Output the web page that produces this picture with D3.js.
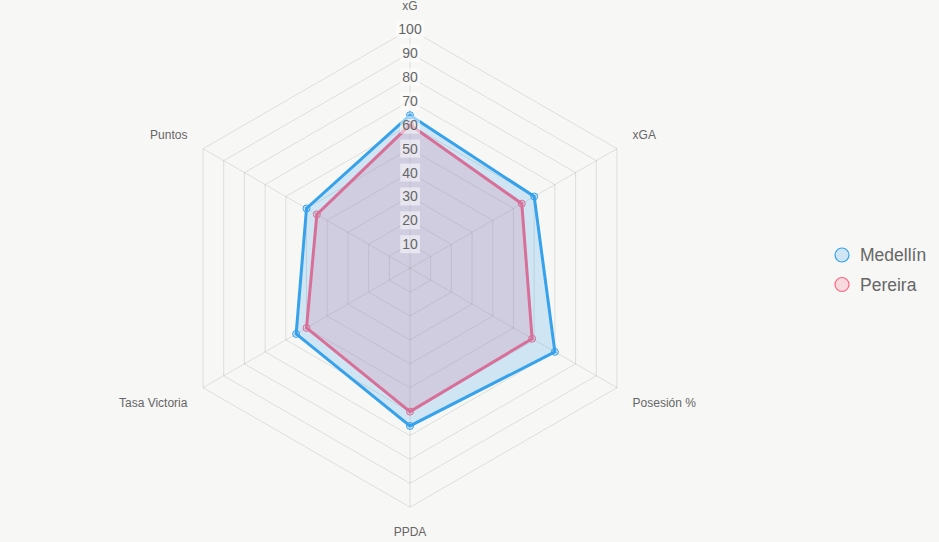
<!DOCTYPE html>
<html>
<head>
<meta charset="utf-8">
<script src="https://cdn.jsdelivr.net/npm/d3@7"></script>
<style>
  html, body { margin: 0; padding: 0; background: #f7f7f5; }
  svg { display: block; font-family: "Liberation Sans", Arial, sans-serif; }
</style>
</head>
<body>
<div id="chart"></div>
<script>
// axes and values
var labels = ["xG", "xGA", "Posesión %", "PPDA", "Tasa Victoria", "Puntos"];
var medellin = [64, 60, 70, 66, 55, 50];
var pereira = [60, 54, 59, 60, 50, 45];
var tickValues = [10, 20, 30, 40, 50, 60, 70, 80, 90, 100];

var series = [
  { name: "Medellín", values: medellin, stroke: "rgb(54,162,235)", fill: "rgba(54,162,235,0.2)" },
  { name: "Pereira", values: pereira, stroke: "rgb(255,99,132)", fill: "rgba(255,99,132,0.2)" }
];

var width = 939, height = 542;
var cx = 410, cy = 268.2, radius = 239;

var svg = d3.select("#chart").append("svg")
  .attr("width", width)
  .attr("height", height);

var r = d3.scaleLinear().domain([0, 100]).range([0, radius]);
var angle = d3.scaleLinear().domain([0, labels.length]).range([0, 2 * Math.PI]);

var g = svg.append("g").attr("transform", "translate(" + cx + "," + cy + ")");

function pos(i, rad) {
  var a = angle(i) - Math.PI / 2;
  return [Math.cos(a) * rad, Math.sin(a) * rad];
}

// grid polygons
var ring = d3.lineRadial()
  .angle(function (d, i) { return angle(i); })
  .radius(function (d) { return r(d); })
  .curve(d3.curveLinearClosed);

g.selectAll(".grid").data(tickValues).enter()
  .append("path")
  .attr("class", "grid")
  .attr("d", function (v) { return ring(labels.map(function () { return v; })); })
  .attr("fill", "none")
  .attr("stroke", "rgba(0,0,0,0.1)")
  .attr("stroke-width", 1);

// angle lines
g.selectAll(".spoke").data(labels).enter()
  .append("line")
  .attr("class", "spoke")
  .attr("x1", 0).attr("y1", 0)
  .attr("x2", function (d, i) { return pos(i, r(100))[0]; })
  .attr("y2", function (d, i) { return pos(i, r(100))[1]; })
  .attr("stroke", "rgba(0,0,0,0.1)")
  .attr("stroke-width", 1);

// point labels
g.selectAll(".plabel").data(labels).enter()
  .append("text")
  .attr("class", "plabel")
  .attr("x", function (d, i) { return pos(i, r(100) + 18)[0]; })
  .attr("y", function (d, i) { return pos(i, r(100) + 18)[1]; })
  .attr("text-anchor", function (d, i) {
    var x = pos(i, 1)[0];
    return Math.abs(x) < 0.01 ? "middle" : (x > 0 ? "start" : "end");
  })
  .attr("dy", function (d, i) {
    var y = pos(i, 1)[1];
    return y < 0 ? "-0.1em" : "0.9em";
  })
  .attr("font-size", 12)
  .attr("fill", "#666")
  .text(function (d) { return d; });

// datasets, drawn in reverse so the first one sits on top
var area = d3.lineRadial()
  .angle(function (d, i) { return angle(i); })
  .radius(function (d) { return r(d); })
  .curve(d3.curveLinearClosed);

series.slice().reverse().forEach(function (s) {
  var layer = g.append("g");
  layer.append("path")
    .attr("d", area(s.values))
    .attr("fill", s.fill)
    .attr("stroke", s.stroke)
    .attr("stroke-width", 3)
    .attr("stroke-linejoin", "miter");
  layer.selectAll("circle").data(s.values).enter()
    .append("circle")
    .attr("cx", function (d, i) { return pos(i, r(d))[0]; })
    .attr("cy", function (d, i) { return pos(i, r(d))[1]; })
    .attr("r", 3.5)
    .attr("fill", s.fill)
    .attr("stroke", s.stroke)
    .attr("stroke-width", 1);
});

// tick labels with backdrop
var ticks = g.selectAll(".tick").data(tickValues).enter()
  .append("g")
  .attr("class", "tick")
  .attr("transform", function (v) { return "translate(0," + (-r(v)) + ")"; });

ticks.append("text")
  .attr("text-anchor", "middle")
  .attr("dy", "0.35em")
  .attr("font-size", 14)
  .attr("fill", "#666")
  .text(function (v) { return v; })
  .each(function () {
    var b = this.getBBox();
    d3.select(this.parentNode).insert("rect", "text")
      .attr("x", b.x - 2)
      .attr("y", b.y - 1)
      .attr("width", b.width + 4)
      .attr("height", b.height + 2)
      .attr("fill", "rgba(255,255,255,0.5)");
  });

// legend
var legend = svg.append("g").attr("transform", "translate(842,255)");
var item = legend.selectAll(".item").data(series).enter()
  .append("g")
  .attr("class", "item")
  .attr("transform", function (d, i) { return "translate(0," + (i * 29.5) + ")"; });

item.append("circle")
  .attr("r", 7)
  .attr("fill", function (d) { return d.fill; })
  .attr("stroke", function (d) { return d.stroke; })
  .attr("stroke-width", 1.2);

item.append("text")
  .attr("x", 18)
  .attr("dy", "0.35em")
  .attr("font-size", 17.5)
  .attr("fill", "#666")
  .text(function (d) { return d.name; });
</script>
</body>
</html>
